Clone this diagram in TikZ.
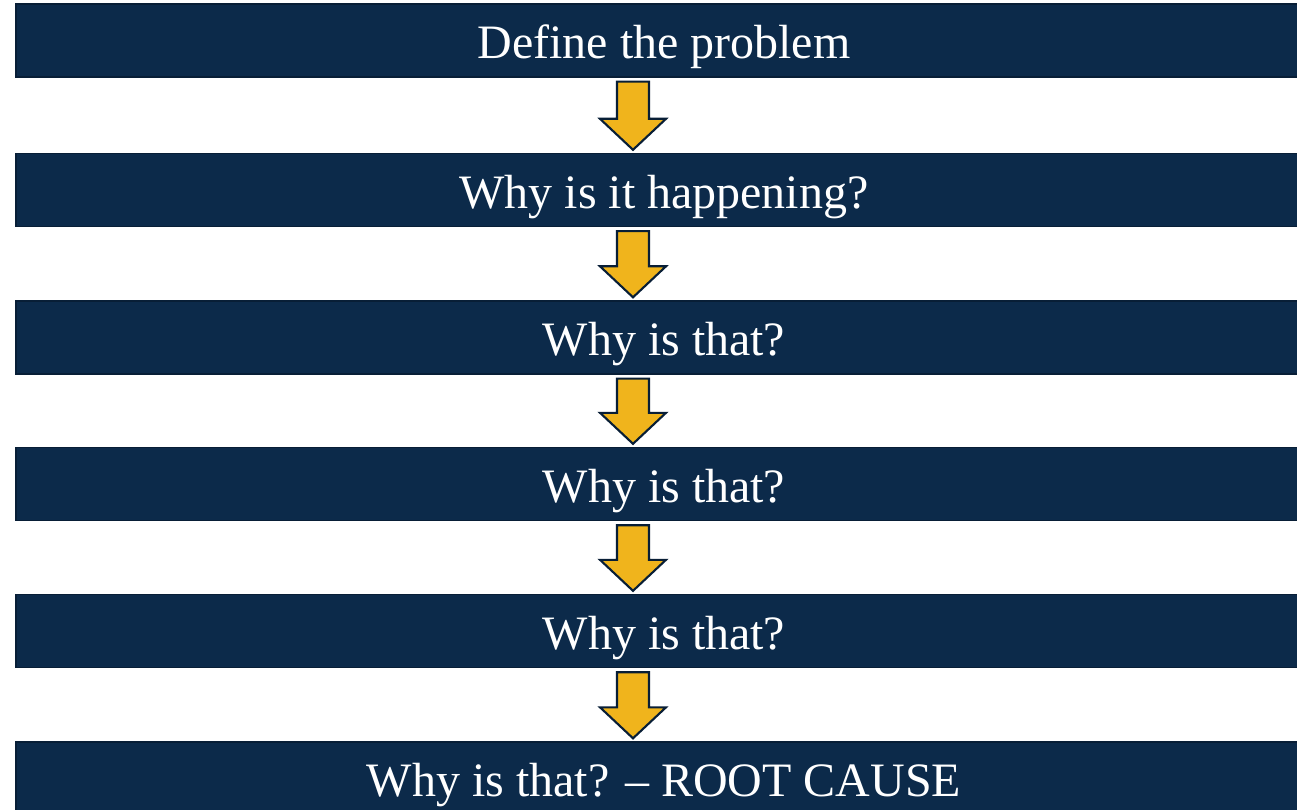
\documentclass[tikz,border=0pt]{standalone}
\usepackage{fontspec}
\setmainfont{Liberation Serif}
\usetikzlibrary{calc}

\definecolor{navy}{HTML}{0C2A4A}
\definecolor{navyline}{HTML}{081E36}
\definecolor{gold}{HTML}{F0B41C}

% block arrow from the bottom of one bar to the top of the next
\newcommand{\whyarrow}[2]{%
  \draw[downarr] ($(#1.south)+(-47,-4)$) -- ($(#1.south)+(-15,-4)$)
    |- ($(#2.north)+(2,34)$) -- ($(#2.north)+(-31,3)$)
    -- ($(#2.north)+(-64,34)$) -| cycle;}

\begin{document}
\begin{tikzpicture}[
  x=0.02cm, y=0.02cm,
  bar/.style={draw=navyline, line width=0.8pt, fill=navy, rectangle,
              minimum width=25.92cm, minimum height=1.46cm, inner sep=0pt,
              text=white, font=\fontsize{27.3}{33}\selectfont,
              text height=21pt, text depth=0pt},
  downarr/.style={draw=navyline, line width=1.2pt, fill=gold, line join=miter}
]
\clip (0,0) rectangle (1297,-810);
\useasboundingbox (0,0) rectangle (1297,-810);
\fill[white] (0,0) rectangle (1297,-810);

\node[bar] (def)  at (664, -40.5) {Define the problem};
\node[bar] (why1) at (664, -190)  {Why is it happening?};
\node[bar] (why2) at (664, -337.5) {Why is that?};
\node[bar] (why3) at (664, -484)  {Why is that?};
\node[bar] (why4) at (664, -631)  {Why is that?};
\node[bar] (root) at (664, -778.5) {Why is that? -- ROOT CAUSE};

\whyarrow{def}{why1}
\whyarrow{why1}{why2}
\whyarrow{why2}{why3}
\whyarrow{why3}{why4}
\whyarrow{why4}{root}
\end{tikzpicture}
\end{document}
